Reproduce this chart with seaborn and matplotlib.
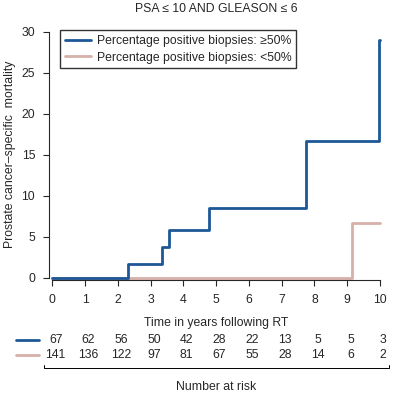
import seaborn as sns
import pandas as pd
import matplotlib.pyplot as plt
from matplotlib.lines import Line2D

# Step curves
time_high = [0, 2.3, 3.35, 3.57, 4.77, 7.74, 9.96, 10]
mort_high = [0, 1.7, 3.7, 5.8, 8.5, 16.7, 29.0, 29.0]
time_low = [0, 9.16, 10]
mort_low = [0, 6.65, 6.65]

# Number at risk table
risk_years = [0, 1, 2, 3, 4, 5, 6, 7, 8, 9, 10]
risk_high = [67, 62, 56, 50, 42, 28, 22, 13, 5, 5, 3]
risk_low = [141, 136, 122, 97, 81, 67, 55, 28, 14, 6, 2]

label_high = 'Percentage positive biopsies: ≥50%'
label_low = 'Percentage positive biopsies: <50%'
c_high = '#1d5796'
c_low = '#d6b0a9'

df = pd.concat([
    pd.DataFrame({'time': time_low, 'mort': mort_low, 'group': label_low}),
    pd.DataFrame({'time': time_high, 'mort': mort_high, 'group': label_high}),
])

sns.set_style('ticks')
plt.rcParams['font.family'] = ['Liberation Sans', 'DejaVu Sans']
fs = 8.8

fig = plt.figure(figsize=(3.93, 3.93), dpi=100)
ax = fig.add_axes([0.125, 0.2875, 0.85, 0.6385])

sns.lineplot(data=df, x='time', y='mort', hue='group', units='group', estimator=None,
             drawstyle='steps-post', palette={label_high: c_high, label_low: c_low},
             linewidth=2.0, legend=False, ax=ax, sort=False)

ax.set_xlim(-0.1, 10.1)
ax.set_ylim(-0.3, 30.3)
ax.set_xticks(range(0, 11))
ax.set_yticks(range(0, 31, 5))
ax.spines['left'].set_bounds(0, 30)
ax.spines['bottom'].set_bounds(0, 10)
ax.spines['top'].set_visible(False)
ax.spines['right'].set_visible(False)
for s in ['left', 'bottom']:
    ax.spines[s].set_linewidth(0.8)
ax.tick_params(direction='out', length=4, width=0.8, labelsize=fs, pad=6)

ax.set_xlabel('Time in years following RT', fontsize=fs, labelpad=8)
ax.set_ylabel('Prostate cancer\u2013specific  mortality', fontsize=fs, labelpad=4)
ax.set_title('PSA ≤ 10 AND GLEASON ≤ 6', fontsize=fs, pad=12)

handles = [Line2D([], [], color=c_high, lw=2), Line2D([], [], color=c_low, lw=2)]
leg = ax.legend(handles, [label_high, label_low], loc='upper left',
                bbox_to_anchor=(0.033, 0.995), fontsize=fs, frameon=True,
                fancybox=False, edgecolor='black', handlelength=2.1,
                borderpad=0.4, labelspacing=0.35, handletextpad=0.5,
                borderaxespad=0)
leg.get_frame().set_linewidth(1.0)

# Number at risk rows
tr = ax.get_xaxis_transform()
for yr, n1, n2 in zip(risk_years, risk_high, risk_low):
    ax.text(yr + 0.1, -0.239, str(n1), transform=tr, ha='center', va='center', fontsize=fs)
    ax.text(yr + 0.1, -0.299, str(n2), transform=tr, ha='center', va='center', fontsize=fs)
ax.plot([-1.1, -0.42], [-0.239, -0.239], color=c_high, lw=2, transform=tr, clip_on=False)
ax.plot([-1.1, -0.42], [-0.299, -0.299], color=c_low, lw=2, transform=tr, clip_on=False)

# bracket
ax.plot([-0.27, -0.27, 10.27, 10.27], [-0.34, -0.352, -0.352, -0.34], color='black',
        lw=0.7, transform=tr, clip_on=False)
ax.text(5, -0.426, 'Number at risk', transform=tr, ha='center', va='center', fontsize=fs)

plt.savefig('out.png', dpi=100)
